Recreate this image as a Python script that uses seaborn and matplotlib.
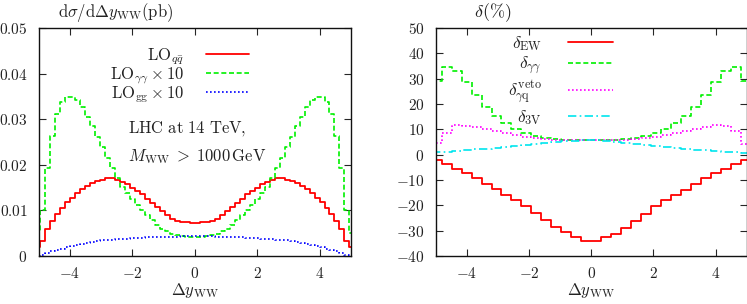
import numpy as np
import pandas as pd
import seaborn as sns
import matplotlib.pyplot as plt
from matplotlib.lines import Line2D

# bin edges (delta y_WW)
edges_fine = np.round(np.arange(-5.12, 5.121, 0.16), 2)
edges_coarse = np.round(np.arange(-5.12, 5.121, 0.32), 2)

# left panel: d sigma / d Delta y_WW (pb)
lo_qq = [0.0020, 0.0033, 0.0059, 0.0077, 0.0093, 0.0105, 0.0118, 0.0127, 0.0137, 0.0146,
         0.0154, 0.0159, 0.0164, 0.0167, 0.0170, 0.0170, 0.0167, 0.0162, 0.0157, 0.0149,
         0.0142, 0.0135, 0.0125, 0.0117, 0.0107, 0.0099, 0.0089, 0.0082, 0.0077, 0.0075,
         0.0074, 0.0073,
         0.0073, 0.0074, 0.0075, 0.0077, 0.0082, 0.0089, 0.0099, 0.0107, 0.0117, 0.0125,
         0.0135, 0.0142, 0.0149, 0.0157, 0.0162, 0.0167, 0.0170, 0.0170, 0.0167, 0.0164,
         0.0159, 0.0154, 0.0146, 0.0137, 0.0127, 0.0118, 0.0105, 0.0093, 0.0077, 0.0059,
         0.0033, 0.0020]
lo_aa = [0.0050, 0.0100, 0.0192, 0.0264, 0.0311, 0.0338, 0.0349, 0.0349, 0.0341, 0.0326,
         0.0305, 0.0285, 0.0261, 0.0239, 0.0215, 0.0192, 0.0170, 0.0152, 0.0138, 0.0124,
         0.0112, 0.0100, 0.0089, 0.0078, 0.0068, 0.0060, 0.0054, 0.0049, 0.0046, 0.0043,
         0.0042, 0.0041,
         0.0041, 0.0042, 0.0043, 0.0046, 0.0049, 0.0054, 0.0060, 0.0068, 0.0078, 0.0089,
         0.0100, 0.0112, 0.0124, 0.0138, 0.0152, 0.0170, 0.0192, 0.0215, 0.0239, 0.0261,
         0.0285, 0.0305, 0.0326, 0.0341, 0.0349, 0.0349, 0.0338, 0.0311, 0.0264, 0.0192,
         0.0100, 0.0050]
lo_gg = [0.0001, 0.0003, 0.0007, 0.0010, 0.0013, 0.0016, 0.0019, 0.0022, 0.0025, 0.0027,
         0.0029, 0.0031, 0.0033, 0.0034, 0.0035, 0.0036, 0.0037, 0.0038, 0.0038, 0.0039,
         0.0040, 0.0040, 0.0041, 0.0041, 0.0041, 0.0042, 0.0042, 0.0042, 0.0042, 0.0043,
         0.0043, 0.0043,
         0.0043, 0.0044, 0.0043, 0.0043, 0.0042, 0.0042, 0.0042, 0.0041, 0.0041, 0.0041,
         0.0040, 0.0040, 0.0039, 0.0038, 0.0038, 0.0037, 0.0036, 0.0035, 0.0034, 0.0033,
         0.0031, 0.0029, 0.0027, 0.0025, 0.0022, 0.0019, 0.0016, 0.0013, 0.0010, 0.0007,
         0.0003, 0.0001]

# right panel: relative corrections (%)
d_ew = [-2.1, -3.8, -5.5, -7.4, -9.4, -11.6, -13.6, -15.8, -18.0, -20.3, -23.1, -25.9,
        -28.6, -30.5, -32.5, -34.0,
        -34.0, -32.5, -31.2, -29.0, -26.0, -23.3, -20.1, -18.1, -15.9, -13.8, -11.6, -9.4,
        -7.4, -5.5, -3.8, -2.1]
d_aa = [29.2, 34.4, 33.2, 28.8, 23.7, 18.9, 15.2, 12.3, 10.2, 8.6, 7.2, 6.4, 6.0, 5.7,
        5.6, 5.6,
        5.6, 5.6, 5.7, 6.0, 6.4, 7.2, 8.6, 10.2, 12.3, 15.2, 18.9, 23.7, 28.8, 33.2,
        34.4, 29.2]
d_aq_veto = [4.5, 8.7, 11.7, 11.2, 10.8, 10.3, 9.3, 8.5, 7.6, 7.0, 6.5, 6.1, 5.8, 5.7,
             5.6, 5.6,
             5.6, 5.6, 5.7, 5.8, 6.1, 6.5, 7.0, 7.6, 8.5, 9.3, 10.2, 10.9, 11.6, 11.5,
             9.5, 4.2]
d_3v = [0.9, 1.2, 1.5, 1.8, 2.1, 2.4, 2.8, 3.1, 3.5, 3.9, 4.3, 4.7, 5.0, 5.3, 5.5, 5.6,
        5.6, 5.4, 5.1, 4.7, 4.3, 3.9, 3.5, 3.1, 2.7, 2.4, 2.0, 1.7, 1.4, 1.1, 0.9, 0.7]

left_yticks = [0, 0.01, 0.02, 0.03, 0.04, 0.05]
left_yticklabels = ['0', '0.01', '0.02', '0.03', '0.04', '0.05']
right_yticks = [-40, -30, -20, -10, 0, 10, 20, 30, 40, 50]
xticks = [-4, -2, 0, 2, 4]

sns.set_style('ticks')
plt.rcParams['mathtext.fontset'] = 'cm'
plt.rcParams['font.family'] = ['DejaVu Serif']

txt = '#222222'
fig = plt.figure(figsize=(7.47, 3.04), dpi=100)
ax1 = fig.add_axes([0.0518, 0.158, 0.4177, 0.75])
ax2 = fig.add_axes([0.583, 0.158, 0.4167, 0.75])


def steps(ax, edges, vals, color, ls, lw):
    df = pd.DataFrame({'dy': (edges[:-1] + edges[1:]) / 2, 'w': vals})
    sns.histplot(data=df, x='dy', weights='w', bins=list(edges), element='step',
                 fill=False, color=color, linestyle=ls, linewidth=lw, ax=ax)


red, green, blue, magenta, cyan = '#ff0000', '#00f000', '#0000ff', '#ff00ff', '#00e5ee'
ls_dash = (0, (3, 1.6))
ls_dot = (0, (1, 1.4))
ls_dashdot = (0, (5, 2, 1, 2))

steps(ax1, edges_fine, lo_qq, red, '-', 1.3)
steps(ax1, edges_fine, lo_aa, green, ls_dash, 1.2)
steps(ax1, edges_fine, lo_gg, blue, ls_dot, 1.2)

steps(ax2, edges_coarse, d_ew, red, '-', 1.3)
steps(ax2, edges_coarse, d_aa, green, ls_dash, 1.2)
steps(ax2, edges_coarse, d_aq_veto, magenta, ls_dot, 1.2)
steps(ax2, edges_coarse, d_3v, cyan, ls_dashdot, 1.2)

for ax in (ax1, ax2):
    ax.set_xlim(-5, 5)
    ax.set_xlabel('')
    ax.set_ylabel('')
    ax.set_xticks(xticks, labels=[f'${t}$' for t in xticks])
    ax.tick_params(direction='in', length=5, width=0.8, top=True, right=True,
                   labelsize=11, labelcolor=txt, pad=7)
    ax.tick_params(axis='y', pad=8)
    for s in ax.spines.values():
        s.set_linewidth(1.0)
        s.set_color('#111111')

ax1.set_ylim(0, 0.05)
ax1.set_yticks(left_yticks, labels=[f'${t}$' for t in left_yticklabels])
ax2.set_ylim(-40, 50)
ax2.set_yticks(right_yticks, labels=[f'${t}$' for t in right_yticks])

fig.text(0.155, 0.958, r'$\mathrm{d}\sigma/\mathrm{d}\Delta y_{\mathrm{WW}}(\mathrm{pb})$',
         ha='center', va='center', fontsize=12, color=txt)
fig.text(0.66, 0.958, r'$\delta(\%)$', ha='center', va='center', fontsize=13, color=txt)
fig.text(0.261, 0.045, r'$\Delta y_{\mathrm{WW}}$', ha='center', va='center',
         fontsize=12, color=txt)
fig.text(0.791, 0.045, r'$\Delta y_{\mathrm{WW}}$', ha='center', va='center',
         fontsize=12, color=txt)

ax1.text(0.286, 0.561, r'$\mathrm{LHC\ at\ 14\ TeV,}$', transform=ax1.transAxes,
         ha='left', va='center', fontsize=12, color=txt)
ax1.text(0.286, 0.434, r'$M_{\mathrm{WW}}\;>\;1000\,\mathrm{GeV}$', transform=ax1.transAxes,
         ha='left', va='center', fontsize=12, color=txt)

h1 = [Line2D([], [], color=red, lw=1.3),
      Line2D([], [], color=green, lw=1.2, ls=ls_dash),
      Line2D([], [], color=blue, lw=1.2, ls=ls_dot)]
l1 = [r'$\mathrm{LO}_{q\bar{q}}$', r'$\mathrm{LO}_{\gamma\gamma}\times 10$',
      r'$\mathrm{LO}_{\mathrm{gg}}\times 10$']
leg1 = ax1.legend(h1, l1, loc='upper right', bbox_to_anchor=(0.675, 0.92),
                  markerfirst=False, frameon=False, fontsize=12, handlelength=2.6,
                  handletextpad=1.3, labelspacing=-0.12, borderpad=0, borderaxespad=0)

h2 = [Line2D([], [], color=red, lw=1.3),
      Line2D([], [], color=green, lw=1.2, ls=ls_dash),
      Line2D([], [], color=magenta, lw=1.2, ls=ls_dot),
      Line2D([], [], color=cyan, lw=1.2, ls=ls_dashdot)]
l2 = [r'$\delta_{\mathrm{EW}}$', r'$\delta_{\gamma\gamma}$',
      r'$\delta_{\gamma\mathrm{q}}^{\mathrm{veto}}$', r'$\delta_{3\mathrm{V}}$']
leg2 = ax2.legend(h2, l2, loc='upper right', bbox_to_anchor=(0.570, 0.975),
                  markerfirst=False, frameon=False, fontsize=12.5, handlelength=2.6,
                  handletextpad=1.5, labelspacing=0.1, borderpad=0, borderaxespad=0)
for leg in (leg1, leg2):
    for t in leg.get_texts():
        t.set_color(txt)

fig.savefig('out.png', dpi=100)
